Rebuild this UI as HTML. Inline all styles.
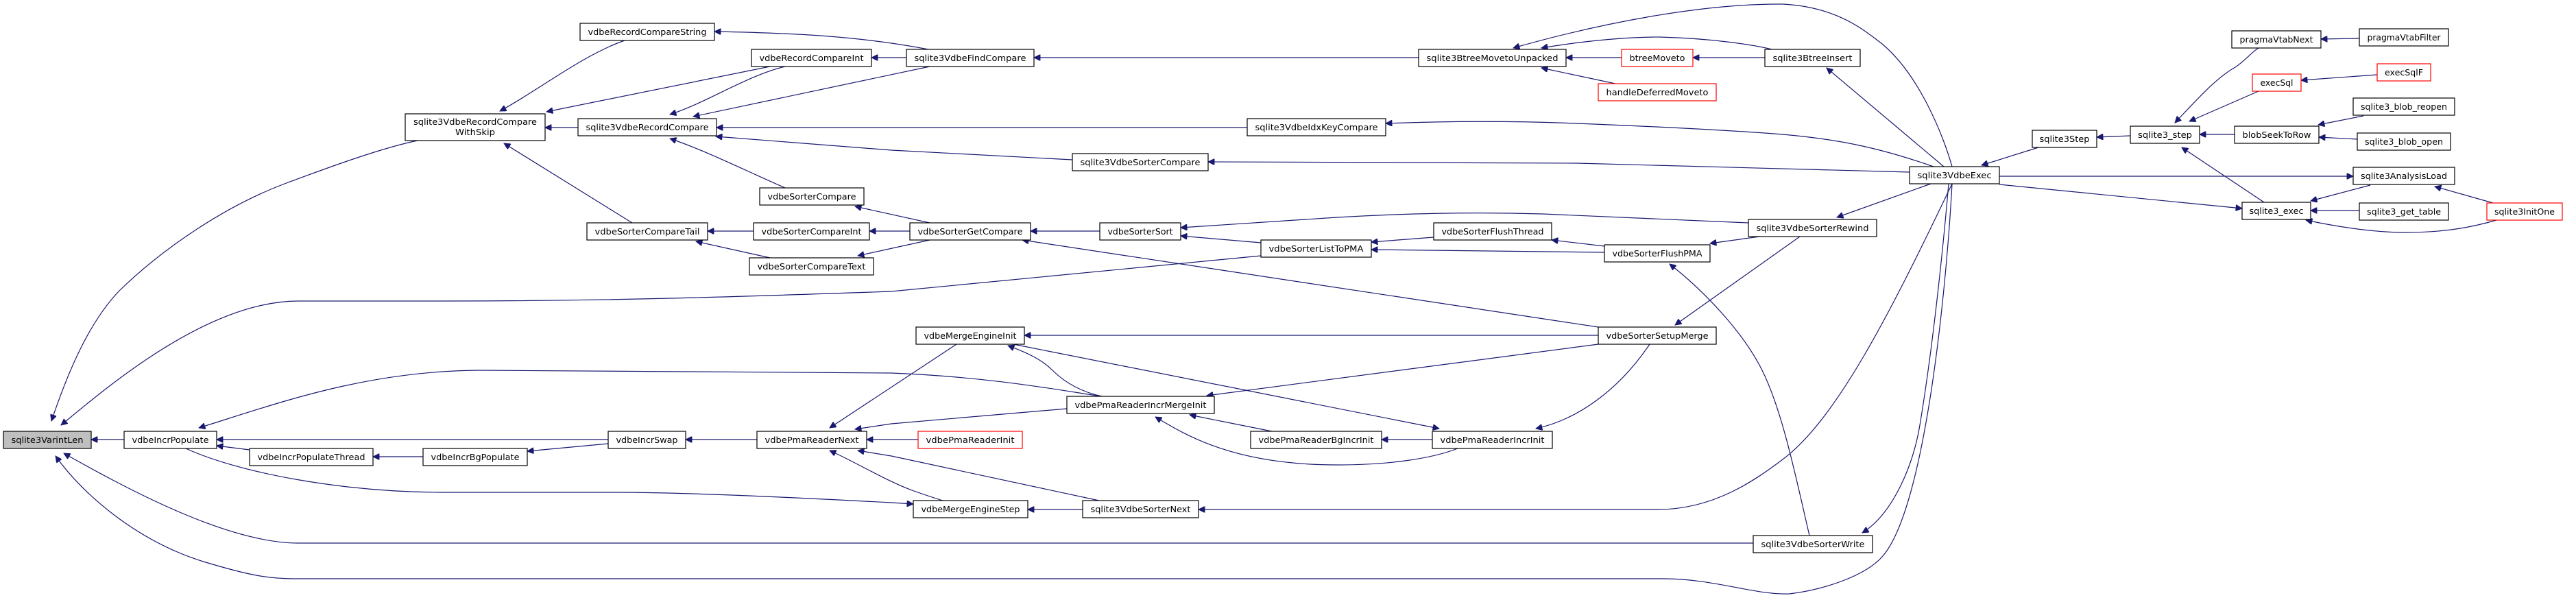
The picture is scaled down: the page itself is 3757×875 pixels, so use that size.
<!DOCTYPE html>
<html><head><meta charset="utf-8"><style>
html,body{margin:0;padding:0;background:#fff;}
svg{display:block;}
text{font-family:"DejaVu Sans","Liberation Sans",sans-serif;font-size:12px;fill:#000;}
.e{fill:none;stroke:#191970;stroke-width:1.2;marker-start:url(#ah);}
.n{fill:#fff;stroke:#000;stroke-width:1.2;}
.r{fill:#fff;stroke:#ff0000;stroke-width:1.2;}
</style></head><body>
<svg width="3757" height="875" viewBox="0 0 3757 875" xmlns="http://www.w3.org/2000/svg">
<defs><marker id="ah" viewBox="0 0 10 10" refX="10" refY="5" markerWidth="13" markerHeight="9" markerUnits="userSpaceOnUse" orient="auto-start-reverse"><path d="M0,0 L10,5 L0,10 z" fill="#191970" stroke="#191970"/></marker></defs>
<g>
<path class="e" d="M75,614 C100,540 130,470 174,424 C240,360 330,300 415,268 C490,240 560,215 609,205"/>
<path class="e" d="M89,620 C150,570 300,439 435,439 L650,439 C900,439 1100,432 1300,425 L1839,373"/>
<path class="e" d="M133,641 L181,641"/>
<path class="e" d="M93,661 C180,710 330,792 435,792 L2557,792"/>
<path class="e" d="M81,665 C120,720 200,790 300,820 C360,838 390,844 430,844 L2427,844 C2500,844 2560,868 2610,866 C2660,860 2720,840 2745,812 C2810,740 2840,400 2847,268"/>
<path class="e" d="M290,624 C400,590 530,541 700,540 L1300,544 C1450,550 1550,570 1607,578"/>
<path class="e" d="M316,641 L887,641"/>
<path class="e" d="M316,650 L364,656"/>
<path class="e" d="M1332,735 L1300,733 C1150,725 1000,718 900,718 L650,718 C500,718 350,690 271,654"/>
<path class="e" d="M544,666 L617,666"/>
<path class="e" d="M769,658 L887,647"/>
<path class="e" d="M1000,641 L1104,641"/>
<path class="e" d="M1210,624 L1395,502"/>
<path class="e" d="M1247,626 L1300,618 L1556,596"/>
<path class="e" d="M1264,641 L1339,641"/>
<path class="e" d="M1251,657 L1300,665 L1603,730"/>
<path class="e" d="M1210,657 C1250,675 1290,700 1330,715 C1350,722 1365,727 1375,730"/>
<path class="e" d="M1470,504 C1500,515 1520,525 1535,540 C1555,560 1580,572 1607,578"/>
<path class="e" d="M1494,489 L2331,489"/>
<path class="e" d="M2099,625 L1478,502"/>
<path class="e" d="M1760,577 L2331,502"/>
<path class="e" d="M1735,605 L1855,629"/>
<path class="e" d="M1685,608 C1730,635 1800,678 1950,678 C2030,678 2090,668 2126,654"/>
<path class="e" d="M2015,641 L2089,641"/>
<path class="e" d="M2240,625 C2300,612 2360,570 2406,502"/>
<path class="e" d="M1499,743 L1579,743"/>
<path class="e" d="M1748,743 L2418,743 C2500,743 2560,700 2600,670 C2680,610 2760,450 2847,268"/>
<path class="e" d="M2443,474 L2625,345"/>
<path class="e" d="M2435,385 C2480,420 2540,480 2570,540 C2600,600 2620,700 2639,781"/>
<path class="e" d="M2494,355 L2566,345"/>
<path class="e" d="M2263,350 L2340,359"/>
<path class="e" d="M2000,353 L2091,346"/>
<path class="e" d="M2000,364 L2340,368"/>
<path class="e" d="M1722,344 L1839,354"/>
<path class="e" d="M1722,332 L1950,317 C2050,311 2150,309 2250,312 L2550,325"/>
<path class="e" d="M1503,337 L1604,337"/>
<path class="e" d="M1491,350 L2331,477"/>
<path class="e" d="M1032,337 L1099,337"/>
<path class="e" d="M1015,352 L1123,376"/>
<path class="e" d="M1268,337 L1327,337"/>
<path class="e" d="M1251,373 L1356,350"/>
<path class="e" d="M1247,301 L1356,325"/>
<path class="e" d="M977,202 C1030,220 1090,250 1145,274"/>
<path class="e" d="M1045,186 L1819,186"/>
<path class="e" d="M1044,199 L1300,219 L1564,233"/>
<path class="e" d="M977,167 C1030,150 1090,110 1145,97"/>
<path class="e" d="M1011,170 L1356,97"/>
<path class="e" d="M729,162 C780,135 850,80 911,59"/>
<path class="e" d="M797,163 L1123,97"/>
<path class="e" d="M795,186 L843,186"/>
<path class="e" d="M735,209 L922,325"/>
<path class="e" d="M1042,46 C1150,48 1250,52 1354,72"/>
<path class="e" d="M1271,84 L1322,84"/>
<path class="e" d="M1508,84 L2069,84"/>
<path class="e" d="M2284,84 L2365,84"/>
<path class="e" d="M2248,99 L2356,122"/>
<path class="e" d="M2248,70 C2320,58 2380,54 2420,54 C2500,56 2560,66 2584,72"/>
<path class="e" d="M2207,70 C2330,35 2480,5 2600,6 C2680,10 2720,45 2745,64 C2800,110 2835,200 2847,243"/>
<path class="e" d="M2469,84 L2574,84"/>
<path class="e" d="M2664,99 L2835,243"/>
<path class="e" d="M2021,180 C2100,177 2200,176 2300,180 C2450,186 2550,192 2600,196 C2680,203 2740,215 2820,243"/>
<path class="e" d="M1762,236 L2300,238 L2785,251"/>
<path class="e" d="M2679,317 L2816,268"/>
<path class="e" d="M2716,777 C2760,750 2790,680 2800,620 C2820,500 2835,350 2842,268"/>
<path class="e" d="M2890,241 L2973,215"/>
<path class="e" d="M3058,200 L3107,198"/>
<path class="e" d="M3270,304 L3250,302 L2916,269"/>
<path class="e" d="M3432,257 L2916,257"/>
<path class="e" d="M3172,179 C3200,150 3230,115 3260,98 C3275,88 3285,75 3294,70"/>
<path class="e" d="M3193,177 L3294,133"/>
<path class="e" d="M3208,196 L3259,196"/>
<path class="e" d="M3182,215 L3302,295"/>
<path class="e" d="M3385,57 L3441,56"/>
<path class="e" d="M3356,117 L3467,109"/>
<path class="e" d="M3381,182 L3447,169"/>
<path class="e" d="M3382,200 L3438,203"/>
<path class="e" d="M3370,293 L3457,270"/>
<path class="e" d="M3370,307 L3441,307"/>
<path class="e" d="M3363,321 C3420,333 3470,339 3509,339 C3570,339 3610,330 3641,321"/>
<path class="e" d="M3551,272 L3636,296"/>
</g>
<g>
<rect x="5" y="629" width="128" height="25" fill="#bfbfbf" stroke="#000" stroke-width="1.2"/><text x="69" y="646" text-anchor="middle" textLength="105" lengthAdjust="spacingAndGlyphs">sqlite3VarintLen</text>
<rect class="n" x="181" y="629" width="135" height="25"/><text x="248.5" y="646" text-anchor="middle" textLength="112" lengthAdjust="spacingAndGlyphs">vdbeIncrPopulate</text>
<rect class="n" x="364" y="654" width="180" height="25"/><text x="454" y="671" text-anchor="middle" textLength="157" lengthAdjust="spacingAndGlyphs">vdbeIncrPopulateThread</text>
<rect class="n" x="591" y="166" width="204" height="39"/><text x="693" y="182" text-anchor="middle" textLength="180" lengthAdjust="spacingAndGlyphs">sqlite3VdbeRecordCompare</text><text x="693" y="197" text-anchor="middle" textLength="58" lengthAdjust="spacingAndGlyphs">WithSkip</text>
<rect class="n" x="846" y="34" width="196" height="25"/><text x="944" y="51" text-anchor="middle" textLength="173" lengthAdjust="spacingAndGlyphs">vdbeRecordCompareString</text>
<rect class="n" x="1096" y="72" width="175" height="25"/><text x="1183.5" y="89" text-anchor="middle" textLength="152" lengthAdjust="spacingAndGlyphs">vdbeRecordCompareInt</text>
<rect class="n" x="843" y="173" width="202" height="25"/><text x="944" y="190" text-anchor="middle" textLength="179" lengthAdjust="spacingAndGlyphs">sqlite3VdbeRecordCompare</text>
<rect class="n" x="1108" y="274" width="152" height="25"/><text x="1184" y="291" text-anchor="middle" textLength="129" lengthAdjust="spacingAndGlyphs">vdbeSorterCompare</text>
<rect class="n" x="856" y="325" width="176" height="25"/><text x="944" y="342" text-anchor="middle" textLength="153" lengthAdjust="spacingAndGlyphs">vdbeSorterCompareTail</text>
<rect class="n" x="1099" y="325" width="169" height="25"/><text x="1183.5" y="342" text-anchor="middle" textLength="146" lengthAdjust="spacingAndGlyphs">vdbeSorterCompareInt</text>
<rect class="n" x="1093" y="376" width="181" height="25"/><text x="1183.5" y="393" text-anchor="middle" textLength="158" lengthAdjust="spacingAndGlyphs">vdbeSorterCompareText</text>
<rect class="n" x="617" y="654" width="152" height="25"/><text x="693" y="671" text-anchor="middle" textLength="129" lengthAdjust="spacingAndGlyphs">vdbeIncrBgPopulate</text>
<rect class="n" x="887" y="629" width="113" height="25"/><text x="943.5" y="646" text-anchor="middle" textLength="90" lengthAdjust="spacingAndGlyphs">vdbeIncrSwap</text>
<rect class="n" x="1104" y="629" width="160" height="25"/><text x="1184" y="646" text-anchor="middle" textLength="137" lengthAdjust="spacingAndGlyphs">vdbePmaReaderNext</text>
<rect class="n" x="1322" y="72" width="186" height="25"/><text x="1415" y="89" text-anchor="middle" textLength="163" lengthAdjust="spacingAndGlyphs">sqlite3VdbeFindCompare</text>
<rect class="n" x="1819" y="173" width="202" height="25"/><text x="1920" y="190" text-anchor="middle" textLength="179" lengthAdjust="spacingAndGlyphs">sqlite3VdbeIdxKeyCompare</text>
<rect class="n" x="1564" y="224" width="198" height="25"/><text x="1663" y="241" text-anchor="middle" textLength="175" lengthAdjust="spacingAndGlyphs">sqlite3VdbeSorterCompare</text>
<rect class="n" x="1327" y="325" width="176" height="25"/><text x="1415" y="342" text-anchor="middle" textLength="153" lengthAdjust="spacingAndGlyphs">vdbeSorterGetCompare</text>
<rect class="n" x="1604" y="325" width="118" height="25"/><text x="1663" y="342" text-anchor="middle" textLength="95" lengthAdjust="spacingAndGlyphs">vdbeSorterSort</text>
<rect class="n" x="1839" y="350" width="161" height="25"/><text x="1919.5" y="367" text-anchor="middle" textLength="138" lengthAdjust="spacingAndGlyphs">vdbeSorterListToPMA</text>
<rect class="n" x="1336" y="477" width="158" height="25"/><text x="1415" y="494" text-anchor="middle" textLength="135" lengthAdjust="spacingAndGlyphs">vdbeMergeEngineInit</text>
<rect class="n" x="1556" y="578" width="215" height="25"/><text x="1663.5" y="595" text-anchor="middle" textLength="192" lengthAdjust="spacingAndGlyphs">vdbePmaReaderIncrMergeInit</text>
<rect class="r" x="1339" y="629" width="152" height="25"/><text x="1415" y="646" text-anchor="middle" textLength="129" lengthAdjust="spacingAndGlyphs">vdbePmaReaderInit</text>
<rect class="n" x="1824" y="629" width="191" height="25"/><text x="1919.5" y="646" text-anchor="middle" textLength="168" lengthAdjust="spacingAndGlyphs">vdbePmaReaderBgIncrInit</text>
<rect class="n" x="1332" y="730" width="167" height="25"/><text x="1415.5" y="747" text-anchor="middle" textLength="144" lengthAdjust="spacingAndGlyphs">vdbeMergeEngineStep</text>
<rect class="n" x="1579" y="730" width="169" height="25"/><text x="1663.5" y="747" text-anchor="middle" textLength="146" lengthAdjust="spacingAndGlyphs">sqlite3VdbeSorterNext</text>
<rect class="n" x="2069" y="72" width="215" height="25"/><text x="2176.5" y="89" text-anchor="middle" textLength="192" lengthAdjust="spacingAndGlyphs">sqlite3BtreeMovetoUnpacked</text>
<rect class="r" x="2365" y="72" width="104" height="25"/><text x="2417" y="89" text-anchor="middle" textLength="81" lengthAdjust="spacingAndGlyphs">btreeMoveto</text>
<rect class="r" x="2331" y="122" width="172" height="25"/><text x="2417" y="139" text-anchor="middle" textLength="149" lengthAdjust="spacingAndGlyphs">handleDeferredMoveto</text>
<rect class="n" x="2574" y="72" width="139" height="25"/><text x="2643.5" y="89" text-anchor="middle" textLength="116" lengthAdjust="spacingAndGlyphs">sqlite3BtreeInsert</text>
<rect class="n" x="2091" y="325" width="172" height="25"/><text x="2177" y="342" text-anchor="middle" textLength="149" lengthAdjust="spacingAndGlyphs">vdbeSorterFlushThread</text>
<rect class="n" x="2340" y="357" width="154" height="25"/><text x="2417" y="374" text-anchor="middle" textLength="131" lengthAdjust="spacingAndGlyphs">vdbeSorterFlushPMA</text>
<rect class="n" x="2550" y="320" width="187" height="25"/><text x="2643.5" y="337" text-anchor="middle" textLength="164" lengthAdjust="spacingAndGlyphs">sqlite3VdbeSorterRewind</text>
<rect class="n" x="2331" y="477" width="172" height="25"/><text x="2417" y="494" text-anchor="middle" textLength="149" lengthAdjust="spacingAndGlyphs">vdbeSorterSetupMerge</text>
<rect class="n" x="2089" y="629" width="175" height="25"/><text x="2176.5" y="646" text-anchor="middle" textLength="152" lengthAdjust="spacingAndGlyphs">vdbePmaReaderIncrInit</text>
<rect class="n" x="2557" y="781" width="174" height="25"/><text x="2644" y="798" text-anchor="middle" textLength="151" lengthAdjust="spacingAndGlyphs">sqlite3VdbeSorterWrite</text>
<rect class="n" x="2785" y="243" width="131" height="25"/><text x="2850.5" y="260" text-anchor="middle" textLength="108" lengthAdjust="spacingAndGlyphs">sqlite3VdbeExec</text>
<rect class="n" x="2964" y="190" width="94" height="25"/><text x="3011" y="207" text-anchor="middle" textLength="73" lengthAdjust="spacingAndGlyphs">sqlite3Step</text>
<rect class="n" x="3107" y="184" width="101" height="25"/><text x="3157.5" y="201" text-anchor="middle" textLength="79" lengthAdjust="spacingAndGlyphs">sqlite3_step</text>
<rect class="n" x="3255" y="45" width="130" height="25"/><text x="3320" y="62" text-anchor="middle" textLength="107" lengthAdjust="spacingAndGlyphs">pragmaVtabNext</text>
<rect class="n" x="3441" y="42" width="130" height="25"/><text x="3506" y="59" text-anchor="middle" textLength="107" lengthAdjust="spacingAndGlyphs">pragmaVtabFilter</text>
<rect class="r" x="3285" y="108" width="71" height="25"/><text x="3320.5" y="125" text-anchor="middle" textLength="48" lengthAdjust="spacingAndGlyphs">execSql</text>
<rect class="r" x="3467" y="93" width="78" height="25"/><text x="3506" y="110" text-anchor="middle" textLength="56" lengthAdjust="spacingAndGlyphs">execSqlF</text>
<rect class="n" x="3432" y="143" width="148" height="25"/><text x="3506" y="160" text-anchor="middle" textLength="126" lengthAdjust="spacingAndGlyphs">sqlite3_blob_reopen</text>
<rect class="n" x="3259" y="184" width="123" height="25"/><text x="3320.5" y="201" text-anchor="middle" textLength="100" lengthAdjust="spacingAndGlyphs">blobSeekToRow</text>
<rect class="n" x="3438" y="194" width="136" height="25"/><text x="3506" y="211" text-anchor="middle" textLength="114" lengthAdjust="spacingAndGlyphs">sqlite3_blob_open</text>
<rect class="n" x="3432" y="244" width="148" height="25"/><text x="3506" y="261" text-anchor="middle" textLength="126" lengthAdjust="spacingAndGlyphs">sqlite3AnalysisLoad</text>
<rect class="n" x="3270" y="295" width="100" height="25"/><text x="3320" y="312" text-anchor="middle" textLength="79" lengthAdjust="spacingAndGlyphs">sqlite3_exec</text>
<rect class="n" x="3441" y="296" width="130" height="25"/><text x="3506" y="313" text-anchor="middle" textLength="108" lengthAdjust="spacingAndGlyphs">sqlite3_get_table</text>
<rect class="r" x="3627" y="296" width="110" height="25"/><text x="3682" y="313" text-anchor="middle" textLength="88" lengthAdjust="spacingAndGlyphs">sqlite3InitOne</text>
</g>
</svg>
</body></html>
